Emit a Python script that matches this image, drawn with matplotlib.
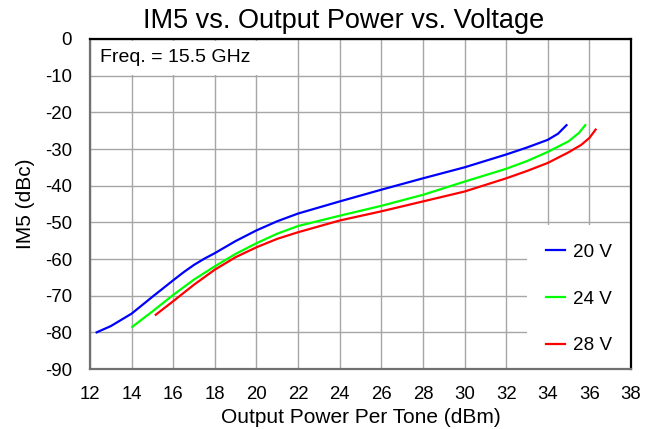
import matplotlib
matplotlib.use("Agg")
import matplotlib.pyplot as plt

plt.rcParams['font.family'] = ['Liberation Sans', 'DejaVu Sans']
plt.rcParams['axes.unicode_minus'] = False

# Data
x_20v = [12.32, 13.0, 14.0, 15.0, 16.0, 16.5, 17.0, 17.5, 18.0, 19.0, 20.0, 21.0, 22.0, 24.0, 26.0, 28.0, 30.0, 32.0, 33.0, 34.0, 34.5, 34.9]
y_20v = [-80.0, -78.3, -74.9, -70.3, -65.8, -63.6, -61.6, -59.9, -58.4, -55.1, -52.2, -49.7, -47.6, -44.3, -41.1, -38.0, -35.0, -31.5, -29.6, -27.5, -25.8, -23.5]

x_24v = [14.03, 15.0, 16.0, 17.0, 18.0, 19.0, 20.0, 21.0, 22.0, 24.0, 26.0, 28.0, 30.0, 32.0, 33.0, 34.0, 35.0, 35.5, 35.8]
y_24v = [-78.5, -74.3, -69.8, -65.6, -62.0, -58.6, -55.7, -53.1, -51.0, -48.2, -45.5, -42.5, -38.9, -35.4, -33.3, -30.8, -27.9, -25.6, -23.5]

x_28v = [15.16, 16.0, 17.0, 18.0, 19.0, 20.0, 21.0, 22.0, 24.0, 26.0, 28.0, 30.0, 32.0, 33.0, 34.0, 35.0, 35.6, 36.0, 36.3]
y_28v = [-75.2, -71.5, -67.0, -62.9, -59.5, -56.8, -54.5, -52.7, -49.5, -47.0, -44.3, -41.6, -38.0, -36.0, -33.8, -30.9, -28.9, -27.0, -24.7]

series_labels = ['20 V', '24 V', '28 V']
series_colors = ['#0000ff', '#00ff00', '#ff0000']

x_ticks = list(range(12, 39, 2))
y_ticks = list(range(-90, 1, 10))

fig = plt.figure(figsize=(6.58, 4.29), dpi=100)
ax = fig.add_axes([90/658, 1-369/429, (631-90)/658, (369-39)/429])

for xs, ys, lab, col in zip([x_20v, x_24v, x_28v], [y_20v, y_24v, y_28v], series_labels, series_colors):
    ax.plot(xs, ys, color=col, lw=1.6, label=lab, zorder=3)

ax.set_xlim(12, 38)
ax.set_ylim(-90, 0)
ax.set_xticks(x_ticks)
ax.set_yticks(y_ticks)
ax.tick_params(axis='x', length=0, labelsize=13.4, pad=12)
ax.tick_params(axis='y', length=0, labelsize=13.4, pad=13)
ax.grid(True, color='#a6a6a6', lw=1.0, zorder=0)
ax.set_axisbelow(True)

for s in ['left', 'bottom']:
    ax.spines[s].set_color('#707070')
    ax.spines[s].set_linewidth(1.6)
for s in ['top', 'right']:
    ax.spines[s].set_color('black')
    ax.spines[s].set_linewidth(1.6)

fig.text(344/658, 1-20.5/429, 'IM5 vs. Output Power vs. Voltage', fontsize=19.5,
         ha='center', va='center')
ax.set_xlabel('Output Power Per Tone (dBm)', fontsize=15, labelpad=4)
ax.set_ylabel('IM5 (dBc)', fontsize=15, labelpad=7)

ax.text(10/541, (369-58)/330, 'Freq. = 15.5 GHz', transform=ax.transAxes, fontsize=14,
        ha='left', va='center', zorder=2,
        bbox=dict(boxstyle='square,pad=0.42', facecolor='white', edgecolor='none'))

leg = ax.legend(loc='lower right', bbox_to_anchor=(1.0, -4/330), fontsize=13.6,
                frameon=True, fancybox=False, framealpha=1.0, facecolor='white',
                edgecolor='none', borderaxespad=0.0, borderpad=1.0,
                labelspacing=1.55, handlelength=1.05, handletextpad=0.4)
leg.set_zorder(2)

fig.savefig('out.png', dpi=100)
